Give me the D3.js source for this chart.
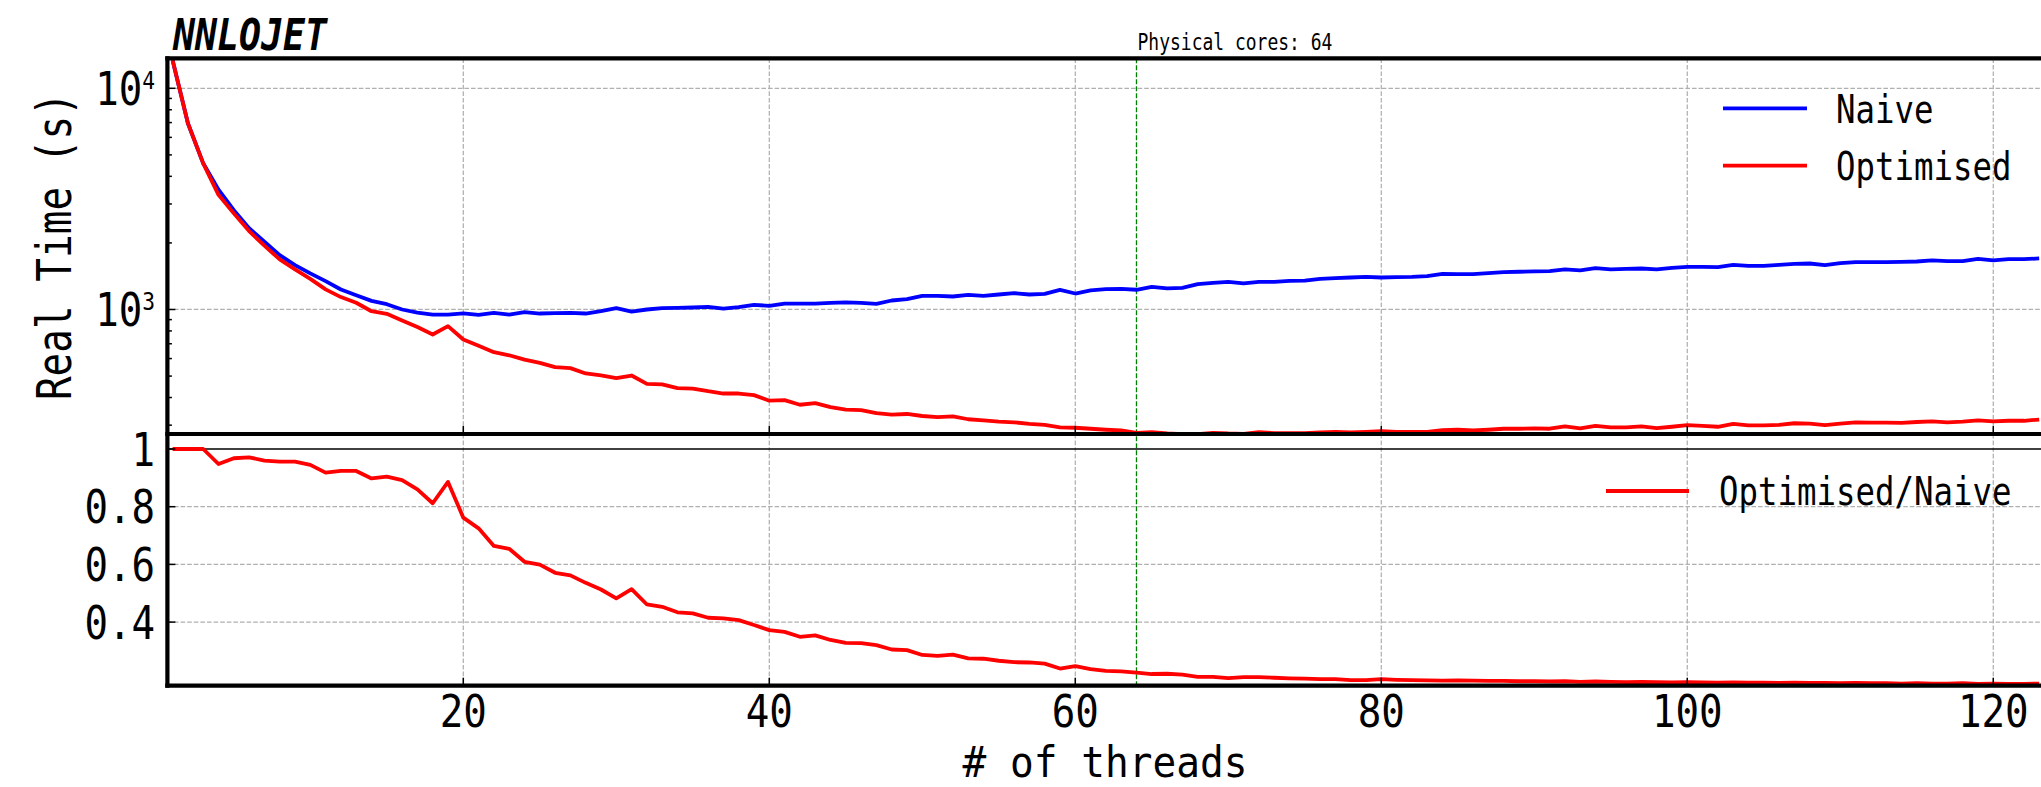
<!DOCTYPE html>
<html>
<head>
<meta charset="utf-8">
<script src="https://cdn.jsdelivr.net/npm/d3@7"></script>
<style>
  body { margin: 0; background: #fff; }
  svg { display: block; }
</style>
</head>
<body>
<div id="chart"></div>
<script>
// ---- data ----
const threads = d3.range(1, 124);   // 1 .. 123 threads

const naiveTime = [
  13400, 6950, 4580, 3480, 2810, 2330, 2024, 1762, 1588, 1456,
  1343, 1232, 1161, 1094, 1057, 1000, 969, 949, 949, 960,
  945, 966, 949, 973, 959, 962, 966, 959, 983, 1014,
  979, 1000, 1014, 1017, 1021, 1028, 1010, 1024, 1050, 1039,
  1064, 1064, 1064, 1072, 1076, 1072, 1061, 1098, 1113, 1153,
  1153, 1145, 1165, 1153, 1169, 1185, 1169, 1177, 1227, 1181,
  1219, 1236, 1240, 1228, 1266, 1245, 1252, 1302, 1320, 1334,
  1311, 1334, 1334, 1348, 1352, 1376, 1385, 1395, 1405, 1395,
  1400, 1405, 1415, 1449, 1444, 1444, 1461, 1476, 1481, 1487,
  1492, 1517, 1502, 1538, 1517, 1527, 1532, 1517, 1543, 1560,
  1560, 1555, 1592, 1575, 1575, 1592, 1609, 1614, 1586, 1620,
  1637, 1637, 1637, 1643, 1648, 1666, 1654, 1654, 1694, 1666,
  1688, 1688, 1701
];

const optimisedTime = [
  13400, 6950, 4580, 3300, 2720, 2262, 1943, 1684, 1518, 1376,
  1233, 1138, 1073, 982, 956, 892, 833, 771, 841, 732,
  685, 641, 621, 593, 574, 549, 543, 514, 504, 489,
  503, 461, 459, 441, 439, 427, 417, 417, 410, 387,
  389, 371, 377, 362, 353, 351, 340, 335, 337, 330,
  326, 329, 319, 315, 311, 309, 304, 301, 293, 292,
  289, 286, 284, 277, 279, 275, 273, 273, 277, 275,
  274, 279, 276, 276, 276, 278, 280, 278, 280, 282,
  280, 280, 280, 285, 286, 284, 286, 289, 289, 290,
  289, 296, 290, 298, 293, 293, 296, 291, 295, 300,
  298, 295, 304, 299, 299, 301, 306, 305, 300, 305,
  309, 308, 308, 307, 310, 312, 309, 311, 315, 312,
  314, 314, 318
];

const ratio = [
  1.000, 1.000, 1.000, 0.948, 0.968, 0.971, 0.960, 0.956, 0.956, 0.945,
  0.918, 0.924, 0.924, 0.898, 0.904, 0.892, 0.860, 0.812, 0.886, 0.762,
  0.725, 0.664, 0.654, 0.609, 0.599, 0.571, 0.562, 0.536, 0.513, 0.482,
  0.514, 0.461, 0.453, 0.434, 0.430, 0.415, 0.413, 0.407, 0.390, 0.372,
  0.366, 0.349, 0.354, 0.338, 0.328, 0.327, 0.320, 0.305, 0.303, 0.286,
  0.283, 0.287, 0.274, 0.273, 0.266, 0.261, 0.260, 0.256, 0.239, 0.247,
  0.237, 0.231, 0.229, 0.225, 0.220, 0.221, 0.218, 0.210, 0.210, 0.206,
  0.209, 0.209, 0.207, 0.205, 0.204, 0.202, 0.202, 0.199, 0.199, 0.202,
  0.200, 0.199, 0.198, 0.197, 0.198, 0.197, 0.196, 0.196, 0.195, 0.195,
  0.194, 0.195, 0.193, 0.194, 0.193, 0.192, 0.193, 0.192, 0.191, 0.192,
  0.191, 0.190, 0.191, 0.190, 0.190, 0.189, 0.190, 0.189, 0.189, 0.188,
  0.189, 0.188, 0.188, 0.187, 0.188, 0.187, 0.187, 0.188, 0.186, 0.187,
  0.186, 0.186, 0.187
];

const xTicks = [20, 40, 60, 80, 100, 120];
const timeMajorTicks = [1000, 10000];
const timeMinorTicks = [300, 400, 500, 600, 700, 800, 900, 2000, 3000, 4000, 5000, 6000, 7000, 8000, 9000];
const ratioTicks = [0.4, 0.6, 0.8, 1];
const ratioTickLabels = ["0.4", "0.6", "0.8", "1"];
const physicalCores = 64;

// ---- layout ----
const W = 2041, H = 787;
const left = 167.4, right = 2043;
const topY0 = 58.3, topY1 = 434;
const botY0 = 434, botY1 = 685.7;
const FONT = "'DejaVu Sans Mono', monospace";

const x = d3.scaleLinear().domain([0.66, 123.25]).range([left, right]);
const yTime = d3.scaleLog().domain([273.6, 13667]).range([topY1, topY0]);
const yRatio = d3.scaleLinear().domain([0.1795, 1.052]).range([botY1, botY0]);

const svg = d3.select("#chart").append("svg")
    .attr("width", W)
    .attr("height", H);

svg.append("rect").attr("width", W).attr("height", H).attr("fill", "#fff");

const defs = svg.append("defs");
defs.append("clipPath").attr("id", "clipTop")
    .append("rect").attr("x", left).attr("y", topY0).attr("width", right - left).attr("height", topY1 - topY0);
defs.append("clipPath").attr("id", "clipBot")
    .append("rect").attr("x", left).attr("y", botY0).attr("width", right - left).attr("height", botY1 - botY0);

// narrow monospace look: squeeze text along its own direction
function label(parent, px, py, str, size, opts = {}) {
    const sx = opts.sx || 0.82;
    const rot = opts.rotate ? ` rotate(${opts.rotate})` : "";
    return parent.append("text")
        .attr("transform", `translate(${px},${py})${rot} scale(${sx},1)`)
        .attr("font-family", FONT)
        .attr("font-size", size)
        .attr("font-weight", opts.weight || "normal")
        .attr("font-style", opts.style || "normal")
        .attr("text-anchor", opts.anchor || "start")
        .attr("fill", "#000")
        .text(str);
}

const gridStyle = sel => sel.attr("stroke", "#b0b0b0").attr("stroke-width", 1.25).attr("stroke-dasharray", "4.6,2");

// ---- grid ----
const grid = svg.append("g");
[[topY0, topY1], [botY0, botY1]].forEach(([a, b]) => {
    grid.selectAll(null).data(xTicks).enter().append("line")
        .attr("x1", d => x(d)).attr("x2", d => x(d))
        .attr("y1", a).attr("y2", b)
        .call(gridStyle);
});
grid.selectAll(null).data(timeMajorTicks).enter().append("line")
    .attr("x1", left).attr("x2", right)
    .attr("y1", d => yTime(d)).attr("y2", d => yTime(d))
    .call(gridStyle);
grid.selectAll(null).data(ratioTicks.filter(d => d < 1)).enter().append("line")
    .attr("x1", left).attr("x2", right)
    .attr("y1", d => yRatio(d)).attr("y2", d => yRatio(d))
    .call(gridStyle);

// physical cores marker
svg.append("line")
    .attr("x1", x(physicalCores)).attr("x2", x(physicalCores))
    .attr("y1", topY0).attr("y2", botY1)
    .attr("stroke", "#008000").attr("stroke-width", 1.3)
    .attr("stroke-dasharray", "5,2");

// ---- lines ----
const lineTime = vals => d3.line()
    .x((d, i) => x(threads[i]))
    .y(d => yTime(d))(vals);

const topG = svg.append("g").attr("clip-path", "url(#clipTop)");
topG.append("path").attr("d", lineTime(naiveTime))
    .attr("fill", "none").attr("stroke", "#0000ff").attr("stroke-width", 3.8).attr("stroke-linejoin", "round");
topG.append("path").attr("d", lineTime(optimisedTime))
    .attr("fill", "none").attr("stroke", "#ff0000").attr("stroke-width", 3.8).attr("stroke-linejoin", "round");

const botG = svg.append("g").attr("clip-path", "url(#clipBot)");
botG.append("line")
    .attr("x1", left).attr("x2", right)
    .attr("y1", yRatio(1)).attr("y2", yRatio(1))
    .attr("stroke", "#000").attr("stroke-width", 1.6);
botG.append("path")
    .attr("d", d3.line().x((d, i) => x(threads[i])).y(d => yRatio(d))(ratio))
    .attr("fill", "none").attr("stroke", "#ff0000").attr("stroke-width", 3.8).attr("stroke-linejoin", "round");

// ---- ticks (inward) ----
const ticks = svg.append("g").attr("stroke", "#000").attr("stroke-width", 1.5);
ticks.selectAll(null).data(xTicks).enter().append("line")
    .attr("x1", d => x(d)).attr("x2", d => x(d))
    .attr("y1", topY1).attr("y2", topY1 - 8);
ticks.selectAll(null).data(xTicks).enter().append("line")
    .attr("x1", d => x(d)).attr("x2", d => x(d))
    .attr("y1", botY1).attr("y2", botY1 - 8);
ticks.selectAll(null).data(timeMajorTicks).enter().append("line")
    .attr("x1", left).attr("x2", left + 8)
    .attr("y1", d => yTime(d)).attr("y2", d => yTime(d));
ticks.selectAll(null).data(timeMinorTicks).enter().append("line")
    .attr("x1", left).attr("x2", left + 4.5)
    .attr("y1", d => yTime(d)).attr("y2", d => yTime(d));
ticks.selectAll(null).data(ratioTicks).enter().append("line")
    .attr("x1", left).attr("x2", left + 8)
    .attr("y1", d => yRatio(d)).attr("y2", d => yRatio(d));

// ---- spines ----
const spines = svg.append("g").attr("stroke", "#000").attr("stroke-width", 4.2).attr("stroke-linecap", "square");
spines.append("line").attr("x1", left).attr("x2", right + 5).attr("y1", topY0).attr("y2", topY0);
spines.append("line").attr("x1", left).attr("x2", right + 5).attr("y1", topY1).attr("y2", topY1);
spines.append("line").attr("x1", left).attr("x2", right + 5).attr("y1", botY1).attr("y2", botY1);
spines.append("line").attr("x1", left).attr("x2", left).attr("y1", topY0).attr("y2", botY1);

// ---- tick labels ----
const lab = svg.append("g");
timeMajorTicks.forEach(v => {
    const t = label(lab, 155, yTime(v) + 16.8, "", 46, { anchor: "end", sx: 0.85 });
    t.append("tspan").text("10");
    t.append("tspan").attr("font-size", 25).attr("dy", -16).text(Math.round(Math.log10(v)));
});
ratioTicks.forEach((v, i) => {
    label(lab, 155, yRatio(v) + 16.8, ratioTickLabels[i], 46, { anchor: "end", sx: 0.85 });
});
xTicks.forEach(v => {
    label(lab, x(v), 727, String(v), 45, { anchor: "middle", sx: 0.87 });
});

// axis titles
label(lab, 71, (topY0 + topY1) / 2, "Real Time (s)", 48, { anchor: "middle", rotate: -90, sx: 0.82 });
label(lab, 1105, 777, "# of threads", 42, { anchor: "middle", sx: 0.94 });

// header texts
label(lab, 173, 50, "NNLOJET", 43.5, { weight: "bold", style: "italic", sx: 0.84 });
label(lab, x(physicalCores) + 1, 50, `Physical cores: ${physicalCores}`, 22.5, { sx: 0.8 });

// ---- legends ----
const legTop = [
    { name: "Naive", color: "#0000ff", y: 108.3 },
    { name: "Optimised", color: "#ff0000", y: 165.7 }
];
legTop.forEach(d => {
    svg.append("line").attr("x1", 1723).attr("x2", 1807).attr("y1", d.y).attr("y2", d.y)
        .attr("stroke", d.color).attr("stroke-width", 3.8);
    label(lab, 1836, d.y + 14.4, d.name, 39.5, { sx: 0.82 });
});
svg.append("line").attr("x1", 1606).attr("x2", 1689).attr("y1", 491).attr("y2", 491)
    .attr("stroke", "#ff0000").attr("stroke-width", 3.8);
label(lab, 1719, 505.4, "Optimised/Naive", 39.5, { sx: 0.82 });
</script>
</body>
</html>
